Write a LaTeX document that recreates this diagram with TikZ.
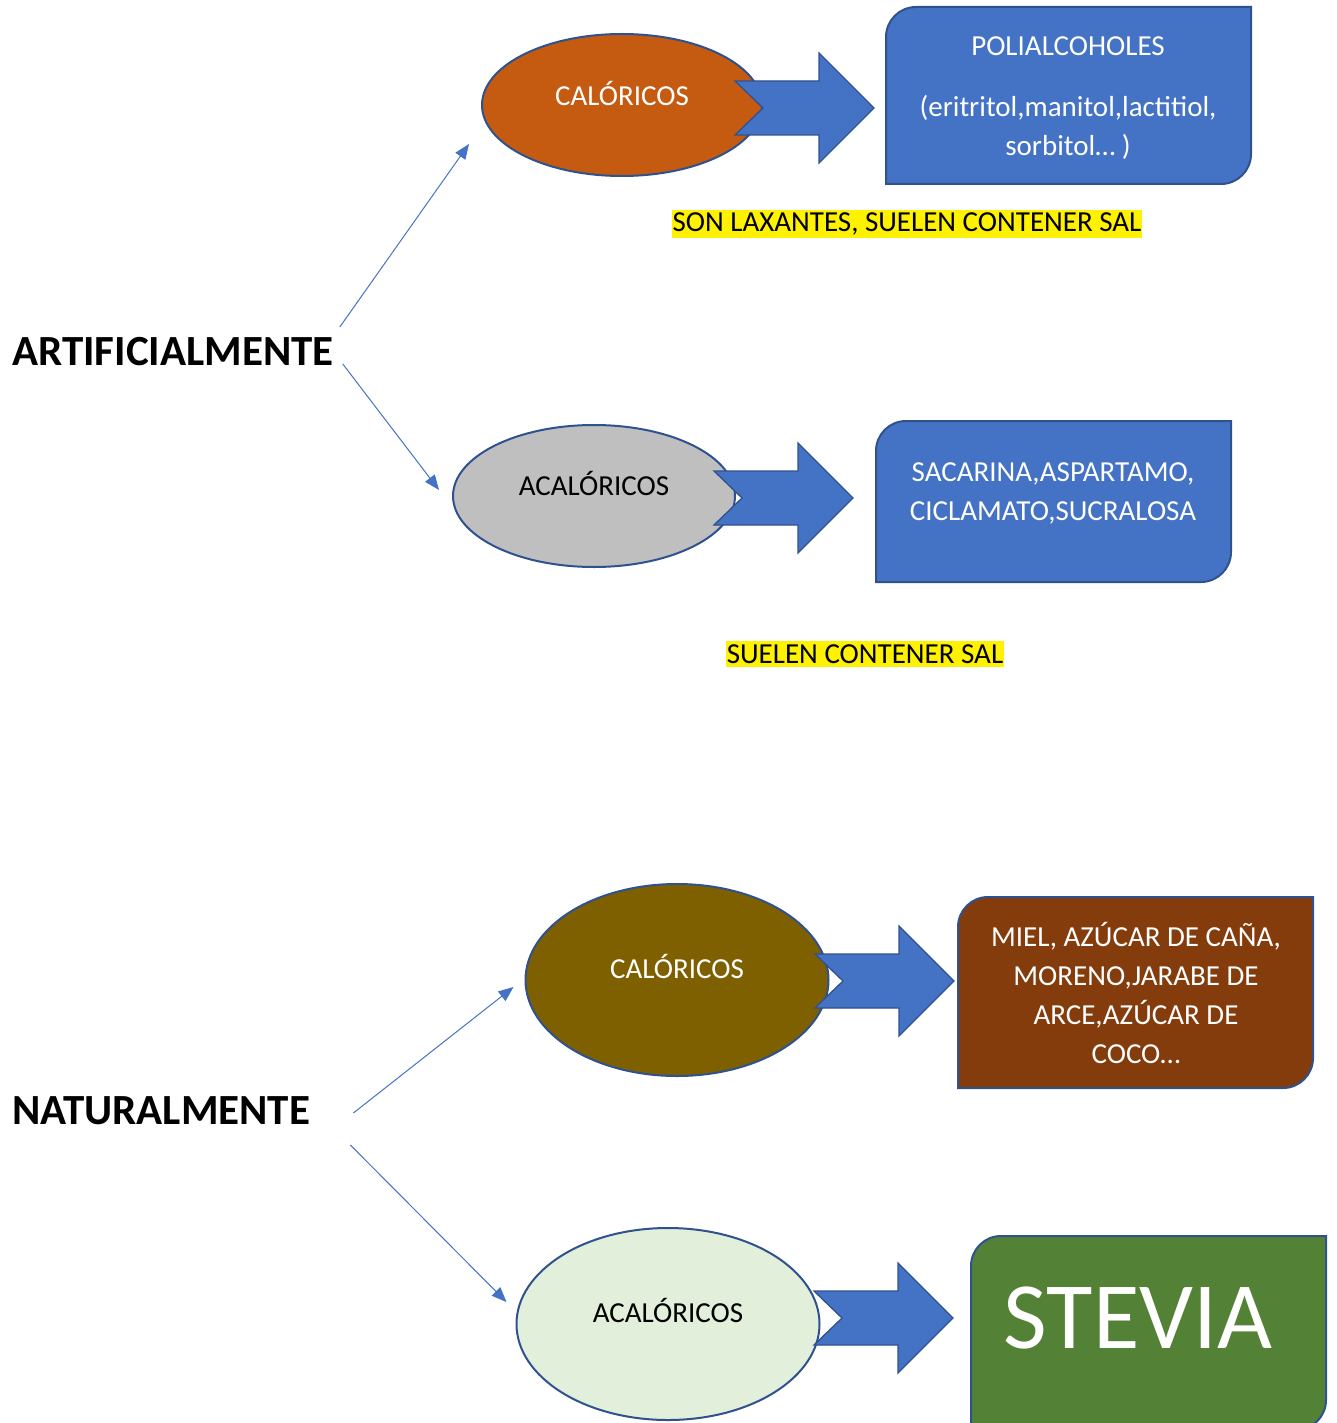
\documentclass[tikz,border=0pt]{standalone}
\usepackage{fontspec}
\setmainfont{Carlito}
\usetikzlibrary{shapes.geometric,arrows.meta,backgrounds}

\definecolor{blueA}{HTML}{4472C4}
\definecolor{blueB}{HTML}{2F528F}
\definecolor{orangeA}{HTML}{C55A11}
\definecolor{grayA}{HTML}{BFBFBF}
\definecolor{oliveA}{HTML}{7F6000}
\definecolor{brownA}{HTML}{843C0C}
\definecolor{greenA}{HTML}{538135}
\definecolor{greenB}{HTML}{E2EFDA}

\tikzset{
  ell/.style={ellipse, draw=blueB, line width=2pt, inner sep=0pt},
  txt/.style={font=\fontsize{29}{39}\selectfont, align=center, inner sep=0pt},
  big/.style={font=\fontsize{43}{50}\selectfont\bfseries, inner sep=0pt, anchor=west},
  conn/.style={blueA, line width=1pt, -{Triangle[length=15pt,width=12pt]}},
  barrow/.style={fill=blueA, draw=blueB, line width=1.3pt, line join=miter},
  cbox/.style={draw=blueB, line width=2pt},
  hl/.style={txt, fill=yellow, inner xsep=1pt, inner ysep=3pt}
}

% block arrow, given by its notch point
\newcommand{\blockarr}[1]{\draw[barrow] (#1) -- ++(-28,-27) -- ++(84,0) -- ++(0,-28) -- ++(55,55) -- ++(-55,55) -- ++(0,-28) -- ++(-84,0) -- cycle;}
% box with rounded top left and bottom right corners
\newcommand{\cardbox}[5]{\draw[cbox,#1] (#2,{(#3+#5)/2}) [rounded corners=30pt] -- (#2,#3) -- ({(#2+#4)/2},#3) [sharp corners] -- (#4,#3) -- (#4,{(#3+#5)/2}) [rounded corners=30pt] -- (#4,#5) -- ({(#2+#4)/2},#5) [sharp corners] -- (#2,#5) -- cycle;}

\begin{document}
\begin{tikzpicture}[x=1pt,y=-1pt]
  \useasboundingbox (0,0) rectangle (1336,1423);

  % artificialmente
  \node[big] (art) at (12,352) {ARTIFICIALMENTE};

  \node[ell, fill=orangeA, minimum width=280pt, minimum height=142pt] (cal1) at (622,105) {};
  \node[txt, white] (cal1t) at (622,93) {CALÓRICOS};
  \blockarr{763,108}
  \node[txt, white] (poli) at (1068,98) {POLIALCOHOLES\\[22pt](eritritol,manitol,lactitiol,\\sorbitol… )};
  \node[hl] (lax) at (907,224) {SON LAXANTES, SUELEN CONTENER SAL};

  \node[ell, fill=grayA, minimum width=282pt, minimum height=142pt] (acal1) at (594,496) {};
  \node[txt] (acal1t) at (594,483) {ACALÓRICOS};
  \blockarr{742,498}
  \node[txt, white] (sacar) at (1053,493) {SACARINA,ASPARTAMO,\\CICLAMATO,SUCRALOSA};
  \node[hl] (sal) at (865,654) {SUELEN CONTENER SAL};

  \draw[conn] ([xshift=6pt,yshift=25pt]art.east) -- ([xshift=-12pt,yshift=-39pt]cal1.west);
  \draw[conn] ([xshift=9pt,yshift=-12pt]art.east) -- ([xshift=-13pt,yshift=6pt]acal1.west);

  % naturalmente
  \node[big] (nat) at (12,1111) {NATURALMENTE};

  \node[ell, fill=oliveA, minimum width=303pt, minimum height=192pt] (cal2) at (677,980) {};
  \node[txt, white] (cal2t) at (677,966) {CALÓRICOS};
  \blockarr{843,981}
  \node[txt, white] (miel) at (1136,993) {MIEL, AZÚCAR DE CAÑA,\\MORENO,JARABE DE\\ARCE,AZÚCAR DE\\COCO…};

  \node[ell, fill=greenB, minimum width=303pt, minimum height=192pt] (acal2) at (668,1324) {};
  \node[txt] (acal2t) at (668,1310) {ACALÓRICOS};
  \blockarr{842,1318}
  \node[txt, white, font=\fontsize{95}{100}\selectfont] (stevia) at (1138,1318) {STEVIA};

  \draw[conn] ([xshift=43pt,yshift=-2pt]nat.east) -- ([xshift=-11pt,yshift=-7pt]cal2.west);
  \draw[conn] ([xshift=40pt,yshift=-34pt]nat.east) -- ([xshift=-9pt,yshift=22pt]acal2.west);

  \begin{scope}[on background layer]
    \cardbox{fill=blueA}{886}{7}{1251}{184}
    \cardbox{fill=blueA}{876}{421}{1231}{582}
    \cardbox{fill=brownA}{958}{897}{1313}{1088}
    \cardbox{fill=greenA}{971}{1236}{1326}{1430}
  \end{scope}
\end{tikzpicture}
\end{document}
